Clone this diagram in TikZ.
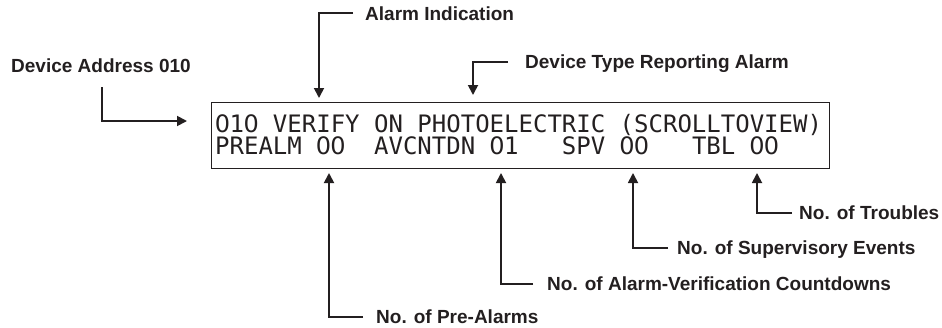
\documentclass[tikz,border=0pt]{standalone}
\usepackage{fontspec}
\setmainfont{Liberation Sans}
\newfontfamily\dispfont{DejaVu Sans Mono}
\newfontfamily\zerofont{DejaVu Sans}
\usetikzlibrary{arrows.meta}
\definecolor{ink}{HTML}{231F20}
\newcommand\Z{\makebox[0.602em][c]{\zerofont 0}}
\begin{document}
\begin{tikzpicture}[x=1pt,y=-1pt,
  lab/.style={font=\fontsize{19}{22}\selectfont\bfseries, text=ink, inner sep=0pt, anchor=base west},
  conn/.style={draw=ink, line width=1.8pt, -{Triangle[width=10pt,length=10pt]}},
  disptext/.style={font=\dispfont\fontsize{24}{22}\selectfont, text=ink, inner sep=0pt, anchor=base west}]
\useasboundingbox (0,0) rectangle (942,327);
% display box
\node[draw=ink, line width=1.3pt, minimum width=618pt, minimum height=66pt, anchor=north west, inner sep=0pt] (disp) at (211,102) {};
\node[disptext] (line1) at (215,132) {\Z1\Z~VERIFY~ON~PHOTOELECTRIC~(SCROLLTOVIEW)};
\node[disptext] (line2) at (215,154) {PREALM~\Z\Z~~AVCNTDN~\Z1~~~SPV~\Z\Z~~~TBL~\Z\Z};
% labels
\node[lab] (lDev) at (11,72) {Device Address 010};
\node[lab] (lAlarm) at (365,20) {Alarm Indication};
\node[lab] (lType) at (525,68.5) {Device Type Reporting Alarm};
\node[lab] (lPre) at (376,323.5) {No. of Pre-Alarms};
\node[lab] (lAV) at (547,290.8) {No. of Alarm-Verification Countdowns};
\node[lab] (lSup) at (677,254.8) {No. of Supervisory Events};
\node[lab] (lTrb) at (799,219.8) {No. of Troubles};
% connector ends
\coordinate (sDev) at (102,87);
\coordinate (tDev) at (187,121);
\coordinate (tAlarm) at (319,98);
\coordinate (tType) at (473,95);
\coordinate (tPre) at (329,173);
\coordinate (tAV) at (501,173);
\coordinate (tSup) at (633,173);
\coordinate (tTrb) at (757,173);
% connectors
\draw[conn] (sDev) |- (tDev);
\draw[conn] ([xshift=-12pt,yshift=6.8pt]lAlarm.base west) -| (tAlarm);
\draw[conn] ([xshift=-17pt,yshift=6.8pt]lType.base west) -| (tType);
\draw[conn] ([xshift=-13pt,yshift=6.8pt]lPre.base west) -| (tPre);
\draw[conn] ([xshift=-14pt,yshift=6.8pt]lAV.base west) -| (tAV);
\draw[conn] ([xshift=-9pt,yshift=6.8pt]lSup.base west) -| (tSup);
\draw[conn] ([xshift=-7pt,yshift=6.8pt]lTrb.base west) -| (tTrb);
\end{tikzpicture}
\end{document}
